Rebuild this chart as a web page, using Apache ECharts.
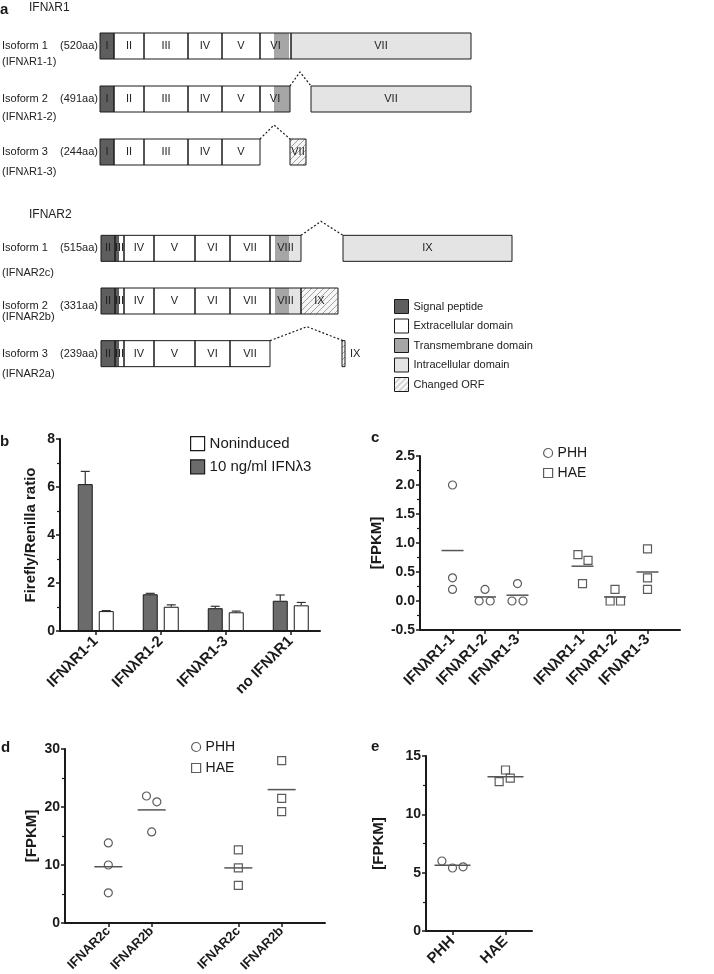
<!DOCTYPE html>
<html><head><meta charset="utf-8">
<script src="https://cdn.jsdelivr.net/npm/echarts@6/dist/echarts.min.js"></script>
<style>html,body{margin:0;padding:0;background:#fff}#c{width:714px;height:974px}</style>
</head><body><div id="c"></div>
<script>
// ---------------- Panel a data ----------------
const r1Names = ['Isoform 1', 'Isoform 2', 'Isoform 3'];
const r1Ids = ['(IFNλR1-1)', '(IFNλR1-2)', '(IFNλR1-3)'];
const r1Lengths = ['(520aa)', '(491aa)', '(244aa)'];
// exons: [start, end, label]
const r1Exons = [
  [[0,14,'I'],[14,44,'II'],[44,88,'III'],[88,122,'IV'],[122,160,'V'],[160,191,'VI'],[191,371,'VII']],
  [[0,14,'I'],[14,44,'II'],[44,88,'III'],[88,122,'IV'],[122,160,'V'],[160,190,'VI'],[211,371,'VII']],
  [[0,14,'I'],[14,44,'II'],[44,88,'III'],[88,122,'IV'],[122,160,'V'],[190,206,'VII']]
];
// domains: [start, end, kind]
const r1Domains = [
  [[0,14,'sig'],[14,174,'ext'],[174,189,'tm'],[189,191,'ext'],[191,371,'intra']],
  [[0,14,'sig'],[14,174,'ext'],[174,190,'tm'],[211,371,'intra']],
  [[0,14,'sig'],[14,160,'ext'],[190,206,'orf']]
];
// splice connectors: [row, from, peak, to]
const r1Splices = [[1,190,200,211],[2,160,174,190]];

const a2Names = ['Isoform 1', 'Isoform 2', 'Isoform 3'];
const a2Ids = ['(IFNAR2c)', '(IFNAR2b)', '(IFNAR2a)'];
const a2Lengths = ['(515aa)', '(331aa)', '(239aa)'];
const a2Exons = [
  [[1,15,'II'],[15,24,'III'],[24,54,'IV'],[54,95,'V'],[95,130,'VI'],[130,170,'VII'],[170,201,'VIII'],[243,412,'IX']],
  [[1,15,'II'],[15,24,'III'],[24,54,'IV'],[54,95,'V'],[95,130,'VI'],[130,170,'VII'],[170,201,'VIII'],[201,238,'IX']],
  [[1,15,'II'],[15,24,'III'],[24,54,'IV'],[54,95,'V'],[95,130,'VI'],[130,170,'VII'],[242,245,'IX']]
];
const a2Domains = [
  [[1,19,'sig'],[19,175,'ext'],[175,189,'tm'],[189,201,'intra'],[243,412,'intra']],
  [[1,19,'sig'],[19,175,'ext'],[175,189,'tm'],[189,201,'intra'],[201,238,'orf']],
  [[1,19,'sig'],[19,170,'ext'],[242,245,'orf']]
];
const a2Splices = [[0,201,221,243],[2,170,207,243]];
const legendANames = ['Signal peptide', 'Extracellular domain', 'Transmembrane domain', 'Intracellular domain', 'Changed ORF'];
const legendAKinds = ['sig', 'ext', 'tm', 'intra', 'orf'];

// ---------------- Panel b data ----------------
const bCats = ['IFNλR1-1', 'IFNλR1-2', 'IFNλR1-3', 'no IFNλR1'];
const bInduced = [6.12, 1.53, 0.95, 1.26];
const bInducedErr = [0.53, 0.04, 0.08, 0.24];
const bNon = [0.83, 1.01, 0.78, 1.07];
const bNonErr = [0.02, 0.08, 0.05, 0.12];

// ---------------- Panel c data ----------------
const cCats = ['IFNλR1-1', 'IFNλR1-2', 'IFNλR1-3', 'IFNλR1-1', 'IFNλR1-2', 'IFNλR1-3'];
const cSlots = [1, 2, 3, 5, 6, 7];
const cPHH = [[2.0, 0.4, 0.2], [0.2, 0.0, 0.0], [0.3, 0.0, 0.0]];
const cPHHJitter = [[0, 0, 0], [0, -0.18, 0.16], [0, -0.17, 0.17]];
const cPHHMean = [0.87, 0.07, 0.10];
const cHAE = [[0.8, 0.7, 0.3], [0.2, 0.0, 0.0], [0.9, 0.4, 0.2]];
const cHAEJitter = [[-0.14, 0.17, 0], [0, -0.15, 0.17], [0, 0, 0]];
const cHAEMean = [0.60, 0.07, 0.50];

// ---------------- Panel d data ----------------
const dCats = ['IFNAR2c', 'IFNAR2b', 'IFNAR2c', 'IFNAR2b'];
const dSlots = [1, 2, 4, 5];
const dPHH = [[13.8, 10.0, 5.2], [21.9, 20.9, 15.7]];
const dPHHJitter = [[0, 0, 0], [-0.12, 0.12, 0]];
const dPHHMean = [9.7, 19.5];
const dHAE = [[12.6, 9.5, 6.5], [28.0, 21.5, 19.2]];
const dHAEJitter = [[0, 0, 0], [0, 0, 0]];
const dHAEMean = [9.5, 23.0];

// ---------------- Panel e data ----------------
const eCats = ['PHH', 'HAE'];
const ePHH = [6.0, 5.4, 5.5];
const ePHHJitter = [-0.2, 0, 0.2];
const ePHHMean = 5.63;
const eHAE = [13.8, 12.8, 13.1];
const eHAEJitter = [0, -0.12, 0.09];
const eHAEMean = 13.23;

// ---------------- styling helpers ----------------
const NARROW = "'Liberation Sans Narrow','Arial Narrow','Liberation Sans',Arial,sans-serif";
const SANS = "'Liberation Sans',Arial,Helvetica,sans-serif";
const INK = '#1a1a1a';
const SMALL = 11;

const hc = document.createElement('canvas');
hc.width = 6; hc.height = 6;
const g = hc.getContext('2d');
g.fillStyle = '#f6f6f6'; g.fillRect(0, 0, 6, 6);
g.strokeStyle = '#8c8c8c'; g.lineWidth = 0.8;
g.beginPath();
g.moveTo(0, 6); g.lineTo(6, 0);
g.moveTo(-1, 1); g.lineTo(1, -1);
g.moveTo(5, 7); g.lineTo(7, 5);
g.stroke();
const hatch = { image: hc, repeat: 'repeat' };
const FILLS = { sig: '#5e5e5e', ext: '#ffffff', tm: '#a6a6a6', intra: '#e4e4e4', orf: hatch };

function flatten(rows) {
  const out = [];
  rows.forEach((row, r) => row.forEach(([s, e, l]) => out.push({ s, e, l, r })));
  return out;
}
const BOX_H = 26;
function domainSeries(rows, gi) {
  const items = flatten(rows);
  return {
    type: 'custom', xAxisIndex: gi, yAxisIndex: gi, silent: true, clip: false, z: 1,
    data: items.map(d => [d.s, d.r, d.e]),
    encode: { x: [0, 2], y: 1 },
    renderItem(params, api) {
      const d = items[params.dataIndex];
      const a = api.coord([d.s, d.r]), b = api.coord([d.e, d.r]);
      return { type: 'rect', shape: { x: a[0], y: a[1] - BOX_H / 2, width: b[0] - a[0], height: BOX_H },
        style: { fill: FILLS[d.l], stroke: null } };
    }
  };
}
function exonSeries(rows, gi) {
  const items = flatten(rows);
  return {
    type: 'custom', xAxisIndex: gi, yAxisIndex: gi, silent: true, clip: false, z: 2,
    data: items.map(d => [d.s, d.r, d.e]),
    encode: { x: [0, 2], y: 1 },
    renderItem(params, api) {
      const d = items[params.dataIndex];
      const a = api.coord([d.s, d.r]), b = api.coord([d.e, d.r]);
      const w = b[0] - a[0];
      const outside = w < 6;
      return { type: 'group', children: [
        { type: 'rect', shape: { x: a[0], y: a[1] - BOX_H / 2, width: w, height: BOX_H },
          style: { fill: null, stroke: INK, lineWidth: 1 } },
        { type: 'text', x: outside ? b[0] + 5 : (a[0] + b[0]) / 2, y: a[1],
          style: { text: d.l, font: SMALL + 'px ' + NARROW, fill: '#222', align: outside ? 'left' : 'center', verticalAlign: 'middle' } }
      ] };
    }
  };
}
function spliceSeries(splices, gi) {
  return {
    type: 'custom', xAxisIndex: gi, yAxisIndex: gi, silent: true, clip: false, z: 3,
    data: splices.map(s => [s[1], s[0], s[2], s[3]]),
    encode: { x: [0, 3], y: 1 },
    renderItem(params, api) {
      const r = api.value(1);
      const a = api.coord([api.value(0), r]), p = api.coord([api.value(2), r]), b = api.coord([api.value(3), r]);
      const top = a[1] - BOX_H / 2;
      return { type: 'polyline', shape: { points: [[a[0], top], [p[0], top - 14], [b[0], top]] },
        style: { stroke: INK, lineWidth: 1.2, lineDash: [2, 2], fill: null } };
    }
  };
}
// lineHeights: [topPad, textLine] per row
function rowLabels(names, ids, lens, lineHeights) {
  const rich = {};
  lineHeights.forEach(([pad, lh], i) => {
    rich['p' + i] = { lineHeight: pad, fontSize: SMALL, fontFamily: NARROW };
    rich['n' + i] = { lineHeight: lh, width: 58, fontSize: SMALL, fontFamily: NARROW, color: '#222' };
    rich['s' + i] = { lineHeight: lh, fontSize: SMALL, fontFamily: NARROW, color: '#222' };
    rich['m' + i] = { lineHeight: lh, fontSize: SMALL, fontFamily: NARROW, color: '#222' };
  });
  return {
    show: true, align: 'left', margin: 98,
    formatter: (v, i) => `{p${i}| }\n{n${i}|${names[i]}}{s${i}|${lens[i]}}\n{m${i}|${ids[i]}}`,
    rich
  };
}

function meanSeries(points, gi, halfW) {
  return {
    type: 'custom', xAxisIndex: gi, yAxisIndex: gi, silent: true, z: 3,
    data: points,
    renderItem(params, api) {
      const p = api.coord([api.value(0), api.value(1)]);
      return { type: 'line', shape: { x1: p[0] - halfW, y1: p[1], x2: p[0] + halfW, y2: p[1] },
        style: { stroke: '#555', lineWidth: 1.5 } };
    }
  };
}
function errSeries(vals, errs, gi, off) {
  return {
    type: 'custom', xAxisIndex: gi, yAxisIndex: gi, silent: true, z: 1,
    data: vals.map((v, i) => [i, v, errs[i]]),
    encode: { x: 0, y: 1 },
    renderItem(params, api) {
      const x = api.value(0), v = api.value(1), e = api.value(2);
      const p = api.coord([x, v]), q = api.coord([x, v + e]);
      const cx = p[0] + off;
      return { type: 'group', children: [
        { type: 'line', shape: { x1: cx, y1: p[1], x2: cx, y2: q[1] }, style: { stroke: '#333', lineWidth: 1.2 } },
        { type: 'line', shape: { x1: cx - 4.5, y1: q[1], x2: cx + 4.5, y2: q[1] }, style: { stroke: '#333', lineWidth: 1.2 } }
      ] };
    }
  };
}
function scatterPts(groups, jitter, slots) {
  const out = [];
  groups.forEach((vals, gi) => vals.forEach((v, k) => out.push([slots[gi] + jitter[gi][k], v])));
  return out;
}
const circleStyle = { color: '#fff', borderColor: '#333', borderWidth: 1.2 };

function valAxisY(gi, min, max, interval, name, nameGap, fmt) {
  return {
    gridIndex: gi, type: 'value', min, max, interval,
    name, nameLocation: 'middle', nameGap, nameRotate: 90,
    nameTextStyle: { fontFamily: SANS, fontWeight: 'bold', fontSize: 15, color: INK },
    axisLine: { show: true, onZero: false, lineStyle: { color: INK, width: 2 } },
    axisTick: { show: true, length: 4, lineStyle: { color: INK, width: 1.5 } },
    minorTick: { show: true, splitNumber: 2, length: 3, lineStyle: { color: INK, width: 1.2 } },
    splitLine: { show: false },
    axisLabel: { fontFamily: SANS, fontWeight: 'bold', fontSize: 14, color: INK, margin: 5, formatter: fmt }
  };
}
function valAxisX(gi, min, max, slots, labels, margin, fontSize) {
  return {
    gridIndex: gi, type: 'value', min, max,
    axisLine: { show: true, onZero: false, lineStyle: { color: INK, width: 2 } },
    axisTick: { show: true, length: 4, customValues: slots, lineStyle: { color: INK, width: 1.5 } },
    splitLine: { show: false },
    axisLabel: { customValues: slots, rotate: 45, margin, fontFamily: SANS, fontWeight: 'bold', fontSize, color: INK,
      formatter: v => { const i = slots.indexOf(v); return i >= 0 ? labels[i] : ''; } }
  };
}
function letter(t, left, top) {
  return { text: t, left, top, padding: 0, textStyle: { fontFamily: SANS, fontWeight: 'bold', fontSize: 15, color: INK } };
}
function grid(left, top, width, height) {
  return { left, top, width, height, outerBoundsMode: 'none', containLabel: false };
}

const option = {
  backgroundColor: '#fff',
  animation: false,
  title: [
    letter('a', 0, 2),
    { text: 'IFNλR1', left: 29, top: 2, padding: 0, textStyle: { fontFamily: NARROW, fontWeight: 'normal', fontSize: 12, color: '#222' } },
    { text: 'IFNAR2', left: 29, top: 209, padding: 0, textStyle: { fontFamily: NARROW, fontWeight: 'normal', fontSize: 12, color: '#222' } },
    letter('b', 0, 434),
    letter('c', 371, 430),
    letter('d', 1, 740),
    letter('e', 371, 739)
  ],
  legend: [
    { orient: 'vertical', left: 394, top: 299, padding: 0, itemWidth: 14, itemHeight: 14, itemGap: 4.5, selectedMode: false,
      textStyle: { fontFamily: NARROW, fontSize: 11, color: '#222', lineHeight: 14 },
      data: legendANames.map((n, i) => ({ name: n, icon: 'rect', itemStyle: { color: FILLS[legendAKinds[i]], borderColor: INK, borderWidth: 1 } })) },
    { orient: 'vertical', left: 190, top: 436, padding: 0, itemWidth: 14, itemHeight: 14, itemGap: 8, selectedMode: false,
      textStyle: { fontFamily: SANS, fontSize: 15, color: INK, lineHeight: 14 },
      data: [
        { name: 'Noninduced', icon: 'rect', itemStyle: { color: '#fff', borderColor: INK, borderWidth: 1.2 } },
        { name: '10 ng/ml IFNλ3', icon: 'rect', itemStyle: { color: '#6b6b6b', borderColor: INK, borderWidth: 1.2 } }
      ] },
    { orient: 'vertical', left: 543, top: 446, padding: 0, itemWidth: 9, itemHeight: 9, itemGap: 6, selectedMode: false,
      textStyle: { fontFamily: SANS, fontSize: 14, color: INK, lineHeight: 14 },
      data: [
        { name: 'PHH', icon: 'circle', itemStyle: circleStyle },
        { name: 'HAE', icon: 'rect', itemStyle: circleStyle }
      ] },
    { orient: 'vertical', left: 191, top: 740, padding: 0, itemWidth: 9, itemHeight: 9, itemGap: 7, selectedMode: false,
      textStyle: { fontFamily: SANS, fontSize: 14, color: INK, lineHeight: 14 },
      data: [
        { name: 'PHH', icon: 'circle', itemStyle: circleStyle },
        { name: 'HAE', icon: 'rect', itemStyle: circleStyle }
      ] }
  ],
  grid: [
    grid(100, 19.5, 420, 159),
    grid(100, 222, 420, 158),
    grid(60, 439, 260, 192),
    grid(420, 456, 260, 174),
    grid(65, 749, 260, 174),
    grid(426, 756, 106, 175)
  ],
  xAxis: [
    { gridIndex: 0, type: 'value', min: 0, max: 420, show: false },
    { gridIndex: 1, type: 'value', min: 0, max: 420, show: false },
    valAxisX(2, -0.55, 3.45, [0, 1, 2, 3], bCats, 8, 15),
    valAxisX(3, 0, 8, cSlots, cCats, 7, 15),
    valAxisX(4, 0, 6, dSlots, dCats, 6, 13),
    valAxisX(5, -0.5, 1.5, [0, 1], eCats, 8, 15)
  ],
  yAxis: [
    { gridIndex: 0, type: 'category', inverse: true, data: [0, 1, 2], axisLine: { show: false }, axisTick: { show: false },
      axisLabel: rowLabels(r1Names, r1Ids, r1Lengths, [[16, 16], [18, 18], [20, 20]]) },
    { gridIndex: 1, type: 'category', inverse: true, data: [0, 1, 2], axisLine: { show: false }, axisTick: { show: false },
      axisLabel: rowLabels(a2Names, a2Ids, a2Lengths, [[25, 25], [21, 11], [20, 20]]) },
    valAxisY(2, 0, 8, 2, 'Firefly/Renilla ratio', 22, v => String(v)),
    valAxisY(3, -0.5, 2.5, 0.5, '[FPKM]', 36, v => v.toFixed(1)),
    valAxisY(4, 0, 30, 10, '[FPKM]', 26, v => String(v)),
    valAxisY(5, 0, 15, 5, '[FPKM]', 40, v => String(v))
  ],
  series: [
    domainSeries(r1Domains, 0), exonSeries(r1Exons, 0), spliceSeries(r1Splices, 0),
    domainSeries(a2Domains, 1), exonSeries(a2Exons, 1), spliceSeries(a2Splices, 1),
    ...legendANames.map((n, i) => ({ type: 'custom', name: n, xAxisIndex: 1, yAxisIndex: 1, data: [], renderItem: () => null,
      itemStyle: { color: FILLS[legendAKinds[i]] } })),
    { type: 'bar', name: '10 ng/ml IFNλ3', xAxisIndex: 2, yAxisIndex: 2, barWidth: 15, barGap: '40%',
      data: bInduced.map((v, i) => [i, v]), itemStyle: { color: '#6b6b6b', borderColor: INK, borderWidth: 1 } },
    { type: 'bar', name: 'Noninduced', xAxisIndex: 2, yAxisIndex: 2, barWidth: 15, barGap: '40%',
      data: bNon.map((v, i) => [i, v]), itemStyle: { color: '#fff', borderColor: INK, borderWidth: 1 } },
    errSeries(bInduced, bInducedErr, 2, -10.5),
    errSeries(bNon, bNonErr, 2, 10.5),
    { type: 'scatter', name: 'PHH', xAxisIndex: 3, yAxisIndex: 3, symbol: 'circle', symbolSize: 8, itemStyle: circleStyle,
      data: scatterPts(cPHH, cPHHJitter, cSlots.slice(0, 3)) },
    { type: 'scatter', name: 'HAE', xAxisIndex: 3, yAxisIndex: 3, symbol: 'rect', symbolSize: 8, itemStyle: circleStyle,
      data: scatterPts(cHAE, cHAEJitter, cSlots.slice(3)) },
    meanSeries(cPHHMean.map((m, i) => [cSlots[i], m]).concat(cHAEMean.map((m, i) => [cSlots[i + 3], m])), 3, 11),
    { type: 'scatter', name: 'PHH', xAxisIndex: 4, yAxisIndex: 4, symbol: 'circle', symbolSize: 8, itemStyle: circleStyle,
      data: scatterPts(dPHH, dPHHJitter, dSlots.slice(0, 2)) },
    { type: 'scatter', name: 'HAE', xAxisIndex: 4, yAxisIndex: 4, symbol: 'rect', symbolSize: 8, itemStyle: circleStyle,
      data: scatterPts(dHAE, dHAEJitter, dSlots.slice(2)) },
    meanSeries(dPHHMean.map((m, i) => [dSlots[i], m]).concat(dHAEMean.map((m, i) => [dSlots[i + 2], m])), 4, 14),
    { type: 'scatter', name: 'PHH', xAxisIndex: 5, yAxisIndex: 5, symbol: 'circle', symbolSize: 8, itemStyle: circleStyle,
      data: ePHH.map((v, k) => [0 + ePHHJitter[k], v]) },
    { type: 'scatter', name: 'HAE', xAxisIndex: 5, yAxisIndex: 5, symbol: 'rect', symbolSize: 8, itemStyle: circleStyle,
      data: eHAE.map((v, k) => [1 + eHAEJitter[k], v]) },
    meanSeries([[0, ePHHMean], [1, eHAEMean]], 5, 18)
  ]
};
const chart = echarts.init(document.getElementById('c'), null, { renderer: 'canvas' });
chart.setOption(option);
</script>
</body></html>
